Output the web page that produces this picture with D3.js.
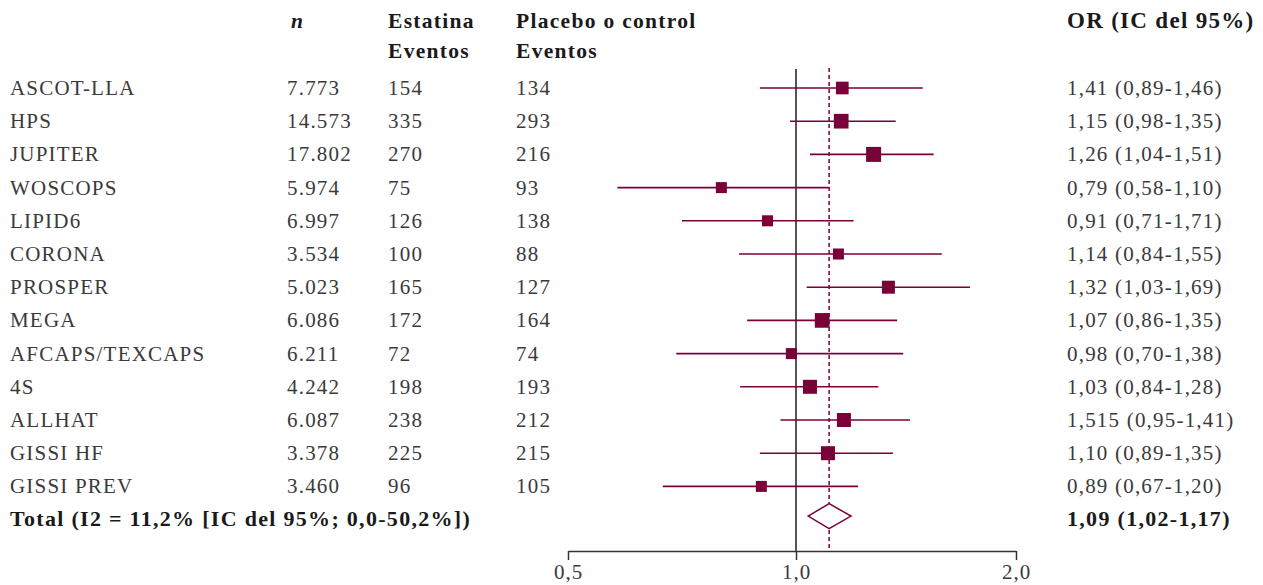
<!DOCTYPE html>
<html>
<head>
<meta charset="utf-8">
<script src="https://cdn.jsdelivr.net/npm/d3@7"></script>
<style>
  body { margin: 0; background: #fff; }
  text { font-family: "Liberation Serif", "DejaVu Serif", serif; }
</style>
</head>
<body>
<script>
// Datos
var estudios = ["ASCOT-LLA","HPS","JUPITER","WOSCOPS","LIPID6","CORONA","PROSPER","MEGA","AFCAPS/TEXCAPS","4S","ALLHAT","GISSI HF","GISSI PREV"];
var nPacientes = [7773,14573,17802,5974,6997,3534,5023,6086,6211,4242,6087,3378,3460];
var eventosEstatina = [154,335,270,75,126,100,165,172,72,198,238,225,96];
var eventosPlacebo = [134,293,216,93,138,88,127,164,74,193,212,215,105];
var orTexto = ["1,41 (0,89-1,46)","1,15 (0,98-1,35)","1,26 (1,04-1,51)","0,79 (0,58-1,10)","0,91 (0,71-1,71)","1,14 (0,84-1,55)","1,32 (1,03-1,69)","1,07 (0,86-1,35)","0,98 (0,70-1,38)","1,03 (0,84-1,28)","1,515 (0,95-1,41)","1,10 (0,89-1,35)","0,89 (0,67-1,20)"];

// valores dibujados
var orPunto = [1.157,1.153,1.277,0.797,0.917,1.143,1.338,1.086,0.986,1.045,1.163,1.106,0.900];
var icBajo = [0.896,0.982,1.045,0.581,0.707,0.841,1.034,0.862,0.695,0.844,0.954,0.896,0.667];
var icAlto = [1.491,1.369,1.543,1.110,1.199,1.583,1.730,1.375,1.402,1.296,1.432,1.357,1.216];
var peso = [8.2,11.0,11.5,6.2,6.2,6.2,8.6,11.0,6.2,10.0,10.0,10.0,6.2];

var orTotal = 1.11, bajoTotal = 1.039, altoTotal = 1.189;
var totalTexto = "Total (I2 = 11,2% [IC del 95%; 0,0-50,2%])";
var totalOrTexto = "1,09 (1,02-1,17)";
var ejeTicks = [0.5, 1, 2];

var width = 1263, height = 585;
var color = "#7a0038";
var gris = "#3a3a3a";

var es = d3.formatLocale({decimal: ",", thousands: ".", grouping: [3], currency: ["", "€"]});
var fmtN = es.format(",d");

var svg = d3.select("body").append("svg")
    .attr("width", width)
    .attr("height", height);

//escalas
var x = d3.scaleLog().domain([0.5, 1, 2]).range([568, 796, 1016]);
var fila = function(i){ return 88 + i * 33.2; };
var lado = d3.scaleSqrt().domain([0, 11.5]).range([0, 15]);

var filas = d3.range(estudios.length);

// cabeceras
var cab = svg.append("g").attr("fill", "#1a1a1a").style("font-size", "21.5px")
    .style("font-weight", "bold").style("letter-spacing", "1.3px");
cab.append("text").attr("x", 291).attr("y", 28).style("font-style", "italic").text("n");
cab.append("text").attr("x", 388).attr("y", 28).text("Estatina");
cab.append("text").attr("x", 388).attr("y", 58).text("Eventos");
cab.append("text").attr("x", 516).attr("y", 28).text("Placebo o control");
cab.append("text").attr("x", 516).attr("y", 58).text("Eventos");
cab.append("text").attr("x", 1067).attr("y", 28).style("font-size", "23px").text("OR (IC del 95%)");

// columnas de texto
var col = svg.append("g").attr("fill", gris).style("font-size", "21px").style("letter-spacing", "1.2px");
function columna(xpos, vals){
    col.selectAll(null).data(vals).enter().append("text")
        .attr("x", xpos)
        .attr("y", function(d,i){ return fila(i) + 7; })
        .text(function(d){ return d; });
}
columna(10, estudios);
columna(287, nPacientes.map(fmtN));
columna(388, eventosEstatina);
columna(516, eventosPlacebo);
columna(1067, orTexto);

// total
var tot = svg.append("g").attr("fill", "#1a1a1a").style("font-size", "22px")
    .style("font-weight", "bold").style("letter-spacing", "1.3px");
tot.append("text").attr("x", 10).attr("y", fila(13) + 6).text(totalTexto);
tot.append("text").attr("x", 1067).attr("y", fila(13) + 6).text(totalOrTexto);

// eje
var ejeY = 551;
var eje = svg.append("g")
    .attr("transform", "translate(0," + ejeY + ")")
    .call(d3.axisBottom(x).tickValues(ejeTicks).tickSize(9).tickSizeOuter(0)
        .tickFormat(function(d){ return es.format(".1f")(d); }));
eje.select(".domain").attr("stroke", "#333").attr("stroke-width", 1.5);
eje.selectAll(".tick line").attr("stroke", "#333").attr("stroke-width", 1.5);
eje.selectAll(".tick text").attr("fill", gris).attr("dy", null).attr("y", 28)
    .style("font-size", "21px").style("letter-spacing", "1px")
    .style("font-family", "'Liberation Serif', serif");

// linea de no efecto
svg.append("line")
    .attr("x1", x(1)).attr("x2", x(1))
    .attr("y1", 69).attr("y2", ejeY)
    .attr("stroke", "#555").attr("stroke-width", 2);

// linea del efecto global
svg.append("line")
    .attr("x1", x(orTotal)).attr("x2", x(orTotal))
    .attr("y1", 68).attr("y2", ejeY)
    .attr("stroke", color).attr("stroke-width", 1.5)
    .attr("stroke-dasharray", "4,3");

// intervalos
svg.selectAll(".ic").data(filas).enter().append("line")
    .attr("class", "ic")
    .attr("x1", function(i){ return x(icBajo[i]); })
    .attr("x2", function(i){ return x(icAlto[i]); })
    .attr("y1", function(i){ return fila(i); })
    .attr("y2", function(i){ return fila(i); })
    .attr("stroke", color).attr("stroke-width", 1.6);

// cuadrados
svg.selectAll(".pt").data(filas).enter().append("rect")
    .attr("class", "pt")
    .attr("x", function(i){ return x(orPunto[i]) - lado(peso[i]) / 2; })
    .attr("y", function(i){ return fila(i) - lado(peso[i]) / 2; })
    .attr("width", function(i){ return lado(peso[i]); })
    .attr("height", function(i){ return lado(peso[i]); })
    .attr("fill", color);

// rombo total
var yT = fila(13) - 3.5;
svg.append("path")
    .attr("d", "M" + x(bajoTotal) + "," + yT +
               "L" + x(orTotal) + "," + (yT - 12.5) +
               "L" + x(altoTotal) + "," + yT +
               "L" + x(orTotal) + "," + (yT + 12.5) + "Z")
    .attr("fill", "#fff").attr("stroke", color).attr("stroke-width", 1.5);
</script>
</body>
</html>
